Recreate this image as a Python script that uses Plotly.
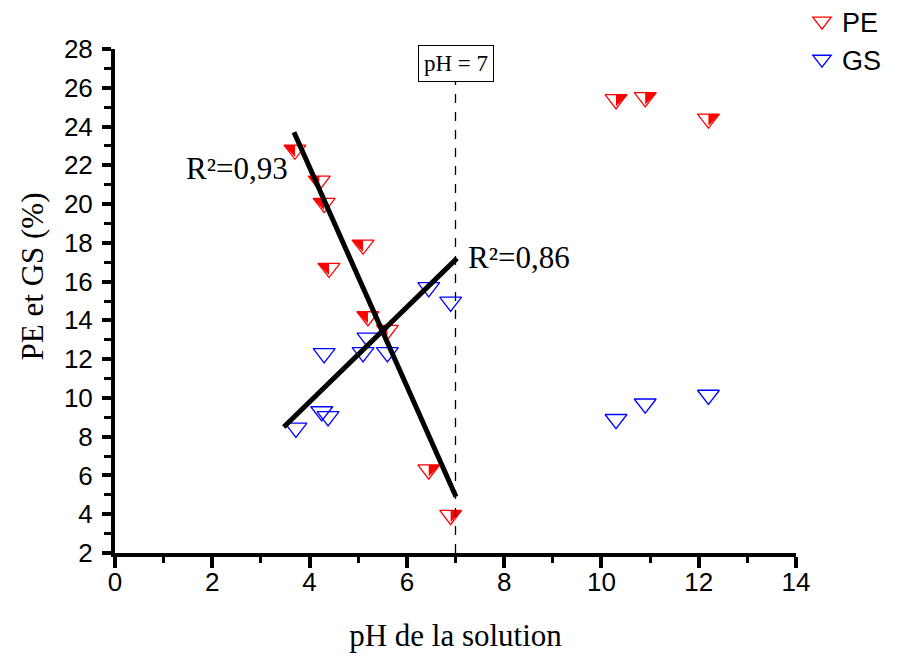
import plotly.graph_objects as go

# ---- data ----
pe_ph = [3.7, 4.2, 4.3, 4.4, 5.1, 5.2, 5.6, 6.45, 6.9, 10.3, 10.9, 12.2]
pe_val = [22.8, 21.2, 20.05, 16.7, 17.9, 14.2, 13.5, 6.3, 3.95, 25.4, 25.5, 24.4]
pe_fill_side = ["L", "L", "L", "L", "L", "L", "L", "R", "R", "R", "R", "R"]

gs_ph = [3.72, 4.25, 4.38, 4.3, 5.1, 5.2, 5.6, 6.45, 6.9, 10.3, 10.9, 12.2]
gs_val = [8.45, 9.3, 9.05, 12.3, 12.35, 13.1, 12.35, 15.7, 14.95, 8.9, 9.7, 10.15]

pe_fit_x = [3.68, 7.01]
pe_fit_y = [23.7, 4.9]
gs_fit_x = [3.47, 7.03]
gs_fit_y = [8.5, 17.2]

x_range = [0, 14]
y_range = [2, 28]
x_ticks = [0, 2, 4, 6, 8, 10, 12, 14]
y_ticks = [2, 4, 6, 8, 10, 12, 14, 16, 18, 20, 22, 24, 26, 28]

# ---- layout geometry ----
W, H = 914, 657
ML, MR, MT, MB = 107, 126, 41, 112
xs = (W - ML - MR) / (x_range[1] - x_range[0])
ys = (H - MT - MB) / (y_range[1] - y_range[0])

MS = 19          # triangle size
HALF = 13        # half-fill triangle size
R = HALF / 2
dx_px = 0.6 * R                 # horizontal offset of half-fill
up_px = 0.25 * MS - 0.6 * R     # vertical offset (upward positive)

RED = "#ff0000"
BLUE = "#0000ff"
SERIF = "Liberation Serif, Times New Roman, serif"
SANS = "Liberation Sans, Arial, sans-serif"

fig = go.Figure()

fig.add_trace(go.Scatter(
    x=gs_ph, y=gs_val, mode="markers", name="GS",
    marker=dict(symbol="triangle-down-open", size=MS, color=BLUE,
                line=dict(width=1.3, color=BLUE)),
))
fig.add_trace(go.Scatter(
    x=pe_ph, y=pe_val, mode="markers", name="PE",
    marker=dict(symbol="triangle-down-open", size=MS, color=RED,
                line=dict(width=1.3, color=RED)),
))

# half fills on shifted overlay axes
lx = [x for x, s in zip(pe_ph, pe_fill_side) if s == "L"]
ly = [y for y, s in zip(pe_val, pe_fill_side) if s == "L"]
rx = [x for x, s in zip(pe_ph, pe_fill_side) if s == "R"]
ry = [y for y, s in zip(pe_val, pe_fill_side) if s == "R"]

fig.add_trace(go.Scatter(
    x=lx, y=ly, mode="markers", showlegend=False, hoverinfo="skip",
    xaxis="x2", yaxis="y2",
    marker=dict(symbol="triangle-ne", size=HALF, color=RED, line=dict(width=0)),
))
fig.add_trace(go.Scatter(
    x=rx, y=ry, mode="markers", showlegend=False, hoverinfo="skip",
    xaxis="x3", yaxis="y3",
    marker=dict(symbol="triangle-nw", size=HALF, color=RED, line=dict(width=0)),
))

# fit lines on top
fig.add_trace(go.Scatter(
    x=pe_fit_x, y=pe_fit_y, mode="lines", showlegend=False,
    xaxis="x4", yaxis="y4", line=dict(color="black", width=5),
))
fig.add_trace(go.Scatter(
    x=gs_fit_x, y=gs_fit_y, mode="lines", showlegend=False,
    xaxis="x4", yaxis="y4", line=dict(color="black", width=5),
))

hidden = dict(visible=False, showgrid=False, zeroline=False, fixedrange=True)

fig.update_layout(
    width=W, height=H,
    margin=dict(l=ML, r=MR, t=MT, b=MB, autoexpand=False),
    paper_bgcolor="white", plot_bgcolor="white",
    font=dict(family=SANS, color="black"),
    showlegend=True,
    legend=dict(
        x=1.0088, y=1.103, xanchor="left", yanchor="top",
        font=dict(size=27, family=SANS),
        traceorder="reversed", bgcolor="rgba(0,0,0,0)",
        tracegroupgap=0,
    ),
    xaxis=dict(
        range=x_range, tickvals=x_ticks, showgrid=False, zeroline=False,
        showline=True, linecolor="black", linewidth=4,
        ticks="outside", ticklen=11, tickwidth=4, tickcolor="black",
        tickfont=dict(size=26), ticklabelstandoff=-8,
        minor=dict(dtick=1, ticks="outside", ticklen=6, tickwidth=3, tickcolor="black"),
        title=dict(text="pH de la solution", standoff=29,
                   font=dict(size=31, family=SERIF)),
        automargin=False, fixedrange=True,
    ),
    yaxis=dict(
        range=y_range, tickvals=y_ticks, showgrid=False, zeroline=False,
        showline=True, linecolor="black", linewidth=4,
        ticks="outside", ticklen=9, tickwidth=4, tickcolor="black",
        tickfont=dict(size=26), ticklabelstandoff=4,
        minor=dict(dtick=1, ticks="outside", ticklen=7, tickwidth=3, tickcolor="black"),
        automargin=False, fixedrange=True,
    ),
    xaxis2=dict(overlaying="x", range=[x_range[0] + dx_px / xs, x_range[1] + dx_px / xs], **hidden),
    yaxis2=dict(overlaying="y", range=[y_range[0] - up_px / ys, y_range[1] - up_px / ys], **hidden),
    xaxis3=dict(overlaying="x", range=[x_range[0] - dx_px / xs, x_range[1] - dx_px / xs], **hidden),
    yaxis3=dict(overlaying="y", range=[y_range[0] - up_px / ys, y_range[1] - up_px / ys], **hidden),
    xaxis4=dict(overlaying="x", range=x_range, **hidden),
    yaxis4=dict(overlaying="y", range=y_range, **hidden),
)

# y-axis title
fig.add_annotation(x=-0.121, y=0.548, xref="paper", yref="paper", text="PE et GS (%)",
                   textangle=-90, showarrow=False, xanchor="center", yanchor="middle",
                   font=dict(size=31, family=SERIF))

# pH = 7 marker line and label
fig.add_shape(type="line", x0=7, x1=7, y0=2, y1=26.3, xref="x", yref="y",
              line=dict(color="black", width=1.3, dash="dash"))
fig.add_annotation(x=7, y=26.3, xref="x", yref="y", text="pH = 7",
                   showarrow=False, xanchor="center", yanchor="bottom",
                   font=dict(size=23, family=SERIF),
                   bordercolor="black", borderwidth=1, borderpad=5, bgcolor="white")

fig.add_annotation(x=2.51, y=21.86, xref="x", yref="y", text="R²=0,93",
                   showarrow=False, xanchor="center", yanchor="middle",
                   font=dict(size=31, family=SERIF))
fig.add_annotation(x=8.3, y=17.27, xref="x", yref="y", text="R²=0,86",
                   showarrow=False, xanchor="center", yanchor="middle",
                   font=dict(size=31, family=SERIF))

fig.write_html("out.html")
